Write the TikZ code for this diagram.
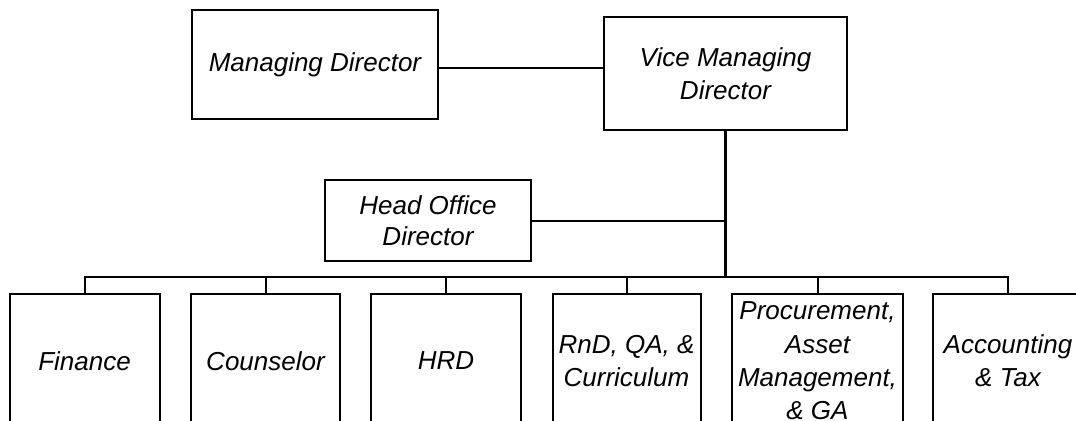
\documentclass[tikz,border=0pt]{standalone}
\usepackage{fontspec}
\setmainfont{Liberation Sans}
\usepackage{tikz}

\tikzset{
    orgbox/.style={draw, line width=1.5pt, inner sep=0pt, align=center, font=\itshape\fontsize{19.5}{25}\selectfont},
    link/.style={line width=1.5pt},
}

\begin{document}
\begin{tikzpicture}[x=0.75pt, y=-0.75pt]
        \clip (0,0) rectangle (1076,421);
        \node[orgbox, minimum width=184.5pt, minimum height=81.75pt] (md) at (315,64.5) {Managing Director};
        \node[orgbox, minimum width=182.25pt, minimum height=84.75pt] (vmd) at (725.5,73.5) {Vice Managing\\Director};
        \node[orgbox, minimum width=154.5pt, minimum height=60.75pt, font=\itshape\fontsize{19.5}{23}\selectfont] (hod) at (428,220.5) {Head Office\\Director};
        \coordinate (bus) at (725.5,277);
        \foreach \nm/\cx/\bw/\txt in {fin/84.5/112.5/Finance, cns/265.5/112/Counselor, hrd/446/112.5/HRD, {rnd/626.5/111/RnD, QA, \&\\Curriculum}, {proc/817.5/128.25/Procurement,\\Asset\\Management,\\\& GA}, acc/1008/112.5/Accounting\\\& Tax}{
            \node[orgbox, minimum width=\bw pt, minimum height=100.5pt] (\nm) at (\cx,361) {\txt};
        }
        \coordinate (mdr) at ([yshift=-2.6pt]md.east);
        \draw[link] (mdr) -- (mdr -| vmd.west);
        \draw[line width=2.4pt] (vmd.south) -- (bus);
        \draw[link] (hod.east) -- (hod.east -| bus);
        \draw[link] (fin.north) |- (bus) -| (acc.north);
        \foreach \nm in {cns, hrd, rnd, proc}{
            \draw[link] (\nm.north) -- (\nm.north |- bus);
        }
\end{tikzpicture}
\end{document}
